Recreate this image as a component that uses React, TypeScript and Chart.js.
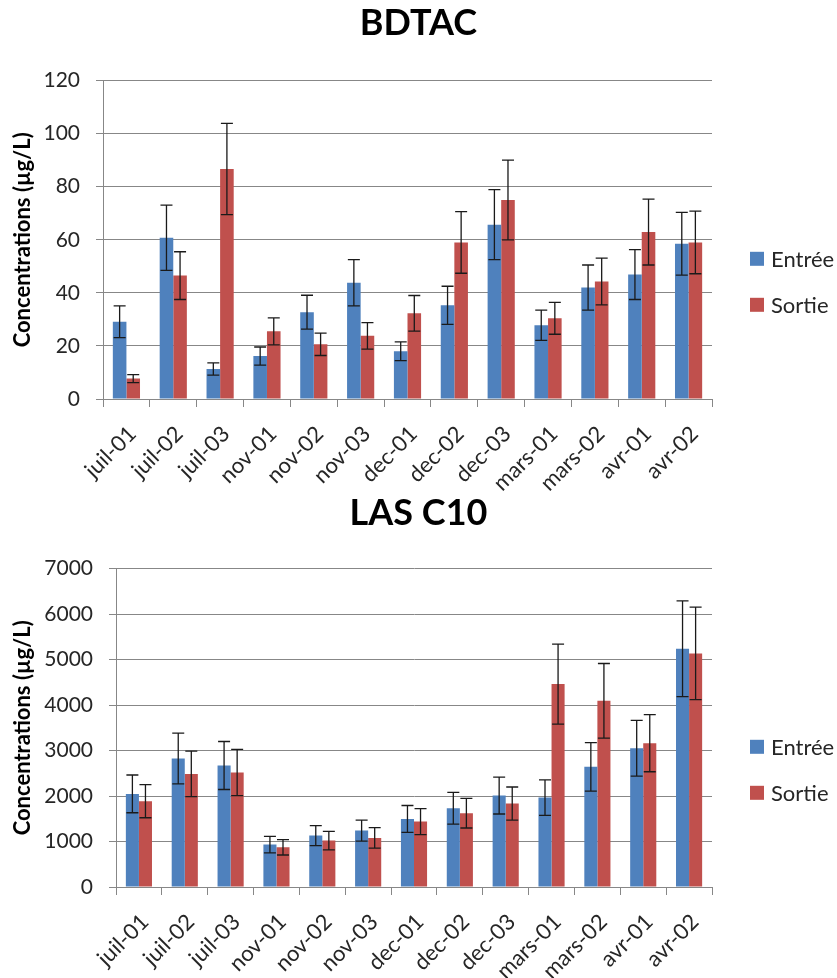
import React, { useEffect, useRef } from 'react';
import { Chart, registerables } from 'chart.js';

Chart.register(...registerables);

const categories = ['juil-01', 'juil-02', 'juil-03', 'nov-01', 'nov-02', 'nov-03', 'dec-01', 'dec-02', 'dec-03', 'mars-01', 'mars-02', 'avr-01', 'avr-02'];
const seriesNames = ['Entrée', 'Sortie'];

const bdtacEntree = [29.1, 60.8, 11.3, 16.2, 32.7, 43.8, 18.0, 35.3, 65.7, 27.8, 42.0, 46.9, 58.5];
const bdtacEntreeErr = [6.0, 12.3, 2.3, 3.4, 6.4, 8.7, 3.5, 7.2, 13.2, 5.7, 8.5, 9.4, 11.8];
const bdtacSortie = [7.7, 46.5, 86.7, 25.5, 20.6, 23.8, 32.3, 59.0, 75.0, 30.4, 44.3, 62.9, 59.0];
const bdtacSortieErr = [1.5, 9.0, 17.2, 5.1, 4.2, 5.0, 6.7, 11.6, 15.0, 6.0, 8.8, 12.4, 11.8];
const bdtacTicks = { min: 0, max: 120, step: 20 };

const lasEntree = [2047, 2825, 2671, 932, 1130, 1240, 1497, 1732, 2010, 1966, 2641, 3052, 5239];
const lasEntreeErr = [415, 558, 528, 180, 220, 230, 295, 350, 405, 390, 535, 613, 1053];
const lasSortie = [1886, 2487, 2517, 873, 1020, 1079, 1438, 1622, 1834, 4461, 4094, 3162, 5136];
const lasSortieErr = [363, 500, 510, 170, 205, 225, 285, 325, 365, 880, 820, 628, 1016];
const lasTicks = { min: 0, max: 7000, step: 1000 };

const COLORS = ['#4F81BD', '#C0504D'];
const GRID = '#878787';
const FONT = 'Lato, "Open Sans", "DejaVu Sans", sans-serif';
const TEXT = '#262626';

const errorBarPlugin = {
  id: 'errorBars',
  afterDatasetsDraw(chart: any) {
    const ctx = chart.ctx;
    const yScale = chart.scales.y;
    chart.data.datasets.forEach((ds: any, di: number) => {
      const meta = chart.getDatasetMeta(di);
      meta.data.forEach((bar: any, i: number) => {
        const v = ds.data[i];
        const e = ds.errors[i];
        const x = bar.x;
        const yT = yScale.getPixelForValue(v + e);
        const yB = yScale.getPixelForValue(v - e);
        const hw = 6;
        ctx.save();
        ctx.strokeStyle = '#1a1a1a';
        ctx.lineWidth = 1.3;
        ctx.beginPath();
        ctx.moveTo(x, yT);
        ctx.lineTo(x, yB);
        ctx.moveTo(x - hw, yT);
        ctx.lineTo(x + hw, yT);
        ctx.moveTo(x - hw, yB);
        ctx.lineTo(x + hw, yB);
        ctx.stroke();
        ctx.restore();
      });
    });
  },
};

const sideLegendPlugin = {
  id: 'sideLegend',
  afterDraw(chart: any) {
    const ctx = chart.ctx;
    const area = chart.chartArea;
    const mid = (area.top + area.bottom) / 2 + 42;
    const x = area.right + 38;
    chart.data.datasets.forEach((ds: any, i: number) => {
      const cy = mid + (i === 0 ? -23 : 23);
      ctx.save();
      ctx.fillStyle = ds.backgroundColor;
      ctx.fillRect(x, cy - 7, 14, 14);
      ctx.fillStyle = TEXT;
      ctx.font = `22px ${FONT}`;
      ctx.textBaseline = 'middle';
      ctx.textAlign = 'left';
      ctx.fillText(ds.label, x + 21, cy + 1);
      ctx.restore();
    });
  },
};

function makeConfig(title: string, entree: number[], entreeErr: number[], sortie: number[], sortieErr: number[], ticks: { min: number; max: number; step: number }, yWidth: number, catPct: number, titleBottom: number, xHeight: number) {
  return {
    type: 'bar' as const,
    data: {
      labels: categories,
      datasets: [
        { label: seriesNames[0], data: entree, errors: entreeErr, backgroundColor: COLORS[0], categoryPercentage: catPct, barPercentage: 1.0, yAxisID: 'y' },
        { label: seriesNames[1], data: sortie, errors: sortieErr, backgroundColor: COLORS[1], categoryPercentage: catPct, barPercentage: 1.0, yAxisID: 'y' },
      ],
    },
    plugins: [errorBarPlugin, sideLegendPlugin],
    options: {
      responsive: false,
      animation: false,
      devicePixelRatio: 1,
      layout: { padding: 0 },
      plugins: {
        legend: { display: false },
        tooltip: { enabled: false },
        title: {
          display: true,
          text: title,
          color: '#000',
          font: { family: FONT, size: 36, weight: 'bold' },
          padding: { top: 2, bottom: titleBottom },
        },
      },
      scales: {
        x: {
          grid: { drawOnChartArea: false, drawTicks: true, tickLength: 8, color: GRID, lineWidth: 1 },
          border: { color: GRID, width: 1 },
          ticks: { color: TEXT, font: { family: FONT, size: 22 }, minRotation: 45, maxRotation: 45, padding: 14, labelOffset: 6, autoSkip: false },
          afterFit: (scale: any) => { scale.height = xHeight; },
        },
        y: {
          type: 'linear',
          position: 'left',
          min: ticks.min,
          max: ticks.max,
          grid: { color: GRID, lineWidth: 1, tickLength: 7 },
          border: { color: GRID, width: 1 },
          ticks: { stepSize: ticks.step, color: TEXT, font: { family: FONT, size: 21 }, padding: 16, callback: (v: any) => String(v) },
          title: { display: true, text: 'Concentrations (µg/L)', color: '#000', font: { family: FONT, size: 22, weight: 'bold' }, padding: { top: 10, bottom: 0 } },
          afterFit: (scale: any) => { scale.width = yWidth; },
        },
        side: {
          type: 'linear',
          position: 'right',
          display: true,
          grid: { display: false, drawTicks: false },
          border: { display: false },
          ticks: { display: false },
          afterFit: (scale: any) => { scale.width = 125; },
        },
      },
    },
  };
}

function ChartCanvas({ config, width, height, top }: { config: any; width: number; height: number; top: number }) {
  const ref = useRef<HTMLCanvasElement>(null);
  useEffect(() => {
    if (!ref.current) return;
    const chart = new Chart(ref.current, config);
    return () => chart.destroy();
  }, [config]);
  return (
    <div style={{ position: 'absolute', left: 0, top, width, height }}>
      <canvas ref={ref} width={width} height={height} style={{ display: 'block' }} />
    </div>
  );
}

const topConfig = makeConfig('BDTAC', bdtacEntree, bdtacEntreeErr, bdtacSortie, bdtacSortieErr, bdtacTicks, 103, 0.58, 35.4, 111);
const bottomConfig = makeConfig('LAS C10', lasEntree, lasEntreeErr, lasSortie, lasSortieErr, lasTicks, 116, 0.57, 33.4, 91);

export default function App() {
  return (
    <div style={{ position: 'absolute', left: 0, top: 0, width: 837, height: 978, background: '#fff' }}>
      <ChartCanvas config={topConfig} width={837} height={510} top={0} />
      <ChartCanvas config={bottomConfig} width={837} height={488} top={490} />
    </div>
  );
}
